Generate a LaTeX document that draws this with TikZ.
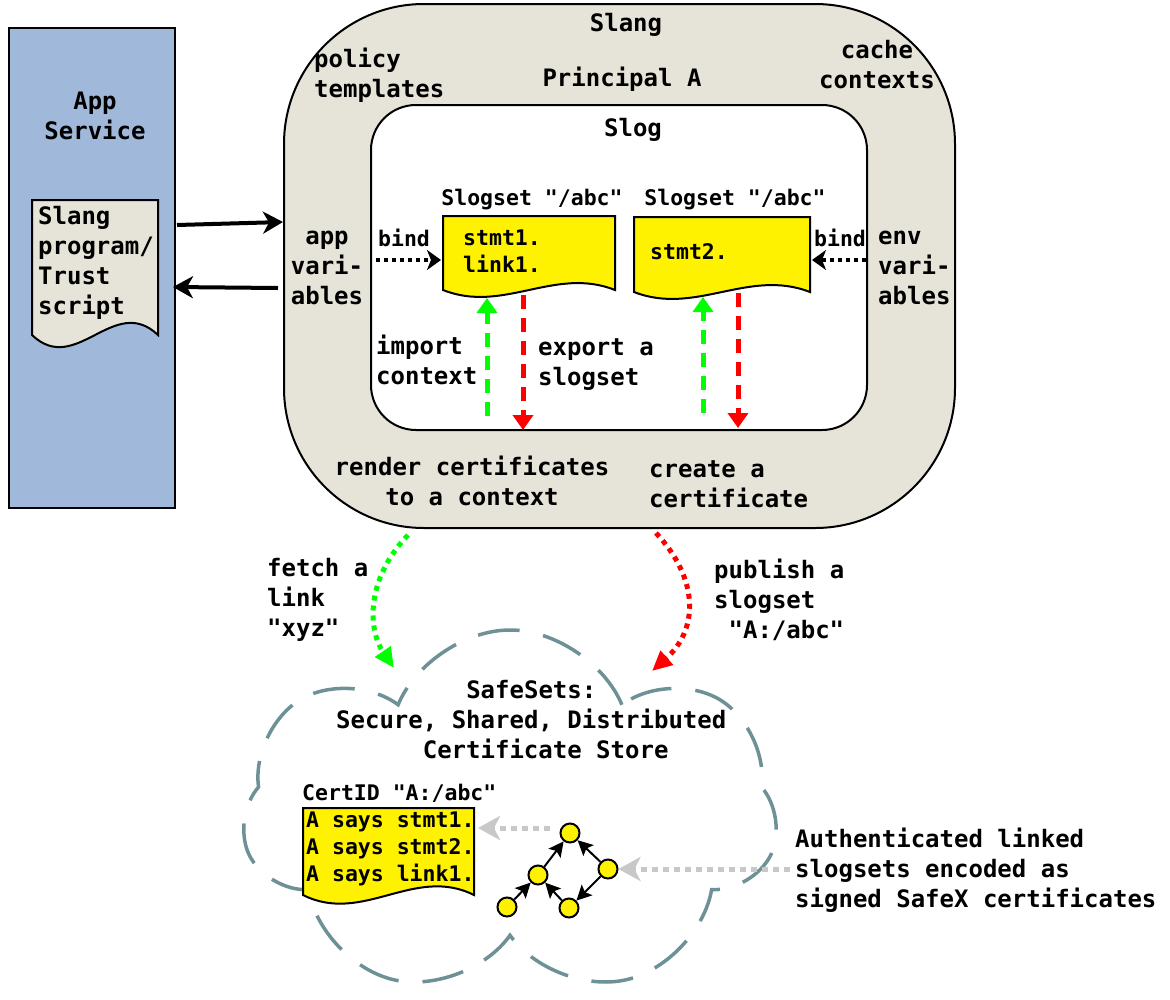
\documentclass[tikz,border=0pt]{standalone}
\usepackage{fontspec}
\setmonofont{DejaVu Sans Mono}
\usetikzlibrary{arrows.meta,shapes.symbols}
\definecolor{appblue}{RGB}{160,185,218}
\definecolor{slangbg}{RGB}{230,228,216}
\definecolor{cloudline}{RGB}{110,145,150}
\definecolor{hintgray}{RGB}{200,200,200}
% document with a wavy lower edge: fill, x1, y1, x2, y2, wave
\newcommand{\wavydoc}[6]{\draw[docline,fill=#1] (#2,#3) -- (#4,#3) -- (#4,#5)
  .. controls ({#4-0.35*(#4-#2)},{#5-#6}) and ({#2+0.35*(#4-#2)},{#5+#6}) .. (#2,#5) -- cycle;}

\begin{document}
\begin{tikzpicture}[x=1pt,y=-1pt]
\tikzstyle{every node}=[font=\ttfamily\bfseries\fontsize{24}{30}\selectfont,inner sep=0pt]
\tikzstyle{smalltxt}=[font=\ttfamily\bfseries\fontsize{21.5}{27}\selectfont]
\tikzstyle{box}=[draw,line width=2pt]
\tikzstyle{docline}=[draw,line width=2pt]
\tikzstyle{bigarrow}=[line width=4pt,-{Stealth[length=20pt,width=22pt,inset=6pt]}]
\tikzstyle{bindarrow}=[line width=3.5pt,dash pattern=on 4pt off 4pt,-{Stealth[length=14pt,width=20pt,inset=4pt]}]
\tikzstyle{flow}=[line width=5pt,dash pattern=on 14pt off 9pt,-{Triangle[length=15pt,width=20pt]}]
\tikzstyle{netflow}=[line width=5pt,dash pattern=on 5pt off 5pt,-{Triangle[length=20pt,width=18pt]}]
\tikzstyle{hint}=[hintgray,line width=5pt,dash pattern=on 6pt off 5pt,-{Stealth[length=22pt,width=24pt,inset=6pt]}]
\tikzstyle{certnode}=[circle,draw,fill=yellow,line width=2pt,minimum size=19pt]
\tikzstyle{certlink}=[line width=2pt,-{Stealth[length=15pt,width=15pt,inset=3pt]}]
\useasboundingbox (0,0) rectangle (1170,999);

% app service
\draw[box,fill=appblue] (9,28) rectangle (175,508);
\node[align=center] (app) at (95,116) {App\\Service};
\wavydoc{slangbg}{32}{200}{158}{335}{42}
\node[align=left,anchor=west] (prog) at (38,263) {Slang\\program/\\Trust\\script};

% slang and slog
\draw[box,fill=slangbg,rounded corners=140pt] (284,4) rectangle (955,528);
\draw[box,fill=white,rounded corners=45pt] (371,105) rectangle (867,430);
\node (slang) at (626,25) {Slang};
\node (slog) at (633,130) {Slog};
\node[align=left,anchor=west] (policy) at (314,75) {policy\\templates};
\node (principal) at (622,79) {Principal A};
\node[align=center] (cache) at (877,65) {cache\\contexts};
\node[align=center] (appvars) at (327,268) {app\\vari-\\ables};
\node[align=left,anchor=west] (envvars) at (878,268) {env\\vari-\\ables};
\node[align=left,anchor=west] (import) at (376,360) {import\\context};
\node[align=left,anchor=west] (export) at (538,365) {export a\\slogset};
\node[align=center] (render) at (472,481) {render certificates\\to a context};
\node[align=left,anchor=west] (create) at (649,484) {create a\\certificate};

% slogsets
\wavydoc{yellow}{443}{216}{615}{290}{24}
\wavydoc{yellow}{634}{217}{810}{292}{24}
\node[smalltxt] (setA) at (532,200) {Slogset "/abc"};
\node[smalltxt] (setB) at (735,200) {Slogset "/abc"};
\node[smalltxt,align=left,anchor=west] (setAtxt) at (463,251.5) {stmt1.\\link1.};
\node[smalltxt,anchor=west] (setBtxt) at (650,252) {stmt2.};
\node[smalltxt] (bindA) at (404,238) {bind};
\node[smalltxt] (bindB) at (840,238) {bind};

\coordinate (appvarR) at (376,260);
\coordinate (setAL) at (441,260);
\coordinate (envvarL) at (866,260);
\coordinate (setBR) at (812,260);
\draw[bindarrow] (appvarR) -- (setAL);
\draw[bindarrow] (envvarL) -- (setBR);

\coordinate (importS) at (487,416);
\coordinate (importE) at (487,298);
\coordinate (exportS) at (523,295);
\coordinate (exportE) at (523,430);
\coordinate (createS) at (703,413);
\coordinate (createE) at (703,297);
\coordinate (publishS) at (738,293);
\coordinate (publishE) at (738,428);
\draw[flow,green] (importS) -- (importE);
\draw[flow,red] (exportS) -- (exportE);
\draw[flow,green] (createS) -- (createE);
\draw[flow,red] (publishS) -- (publishE);

% app <-> slang
\coordinate (fromApp) at (177,225);
\coordinate (toSlang) at (283,222);
\coordinate (fromSlang) at (278,288);
\coordinate (toApp) at (173,287);
\draw[bigarrow] (fromApp) -- (toSlang);
\draw[bigarrow] (fromSlang) -- (toApp);

% store
\node[cloud,draw=cloudline,line width=3.5pt,dash pattern=on 42pt off 24pt,cloud puffs=7,cloud puff arc=135,
  cloud ignores aspect,minimum width=535pt,minimum height=368pt] (store) at (510,814) {};
\node[align=left,anchor=west] (storetxt) at (336,720)
  {\hspace*{5.42em}SafeSets:\\Secure, Shared, Distributed\\\hspace*{3.61em}Certificate Store};

\coordinate (fetchS) at (408,535);
\coordinate (fetchE) at (394,668);
\coordinate (pubS) at (656,533);
\coordinate (pubE) at (652,671);
\draw[netflow,green] (fetchS) .. controls (365,580) and (368,630) .. (fetchE);
\draw[netflow,red] (pubS) .. controls (700,580) and (698,630) .. (pubE);
\node[align=left,anchor=west] (fetch) at (267,600) {fetch a\\link\\"xyz"};
\node[align=left,anchor=west] (publish) at (714,600) {publish a\\slogset\\\hspace*{0.6em}"A:/abc"};

% certificate
\node[smalltxt,anchor=west] (certid) at (302,793) {CertID "A:/abc"};
\wavydoc{yellow}{303}{808}{474}{895}{30}
\node[smalltxt,align=left,anchor=west] (certtxt) at (306,848.5) {A says stmt1.\\A says stmt2.\\A says link1.};

\node[certnode] (v1) at (570,833) {};
\node[certnode] (v2) at (608,869) {};
\node[certnode] (v3) at (538,875) {};
\node[certnode] (v4) at (569,908) {};
\node[certnode] (v5) at (507,907) {};
\draw[certlink] (v5) -- (v3);
\draw[certlink] (v3) -- (v1);
\draw[certlink] (v2) -- (v1);
\draw[certlink] (v2) -- (v4);
\draw[certlink] (v4) -- (v3);

\coordinate (hintA) at (550,828);
\coordinate (certR) at (478,828);
\coordinate (hintB) at (790,869);
\draw[hint] (hintA) -- (certR);
\draw[hint] (hintB) -- (v2);
\node[align=left,anchor=west] (auth) at (795,870)
  {Authenticated linked\\slogsets encoded as\\signed SafeX certificates};
\end{tikzpicture}
\end{document}
